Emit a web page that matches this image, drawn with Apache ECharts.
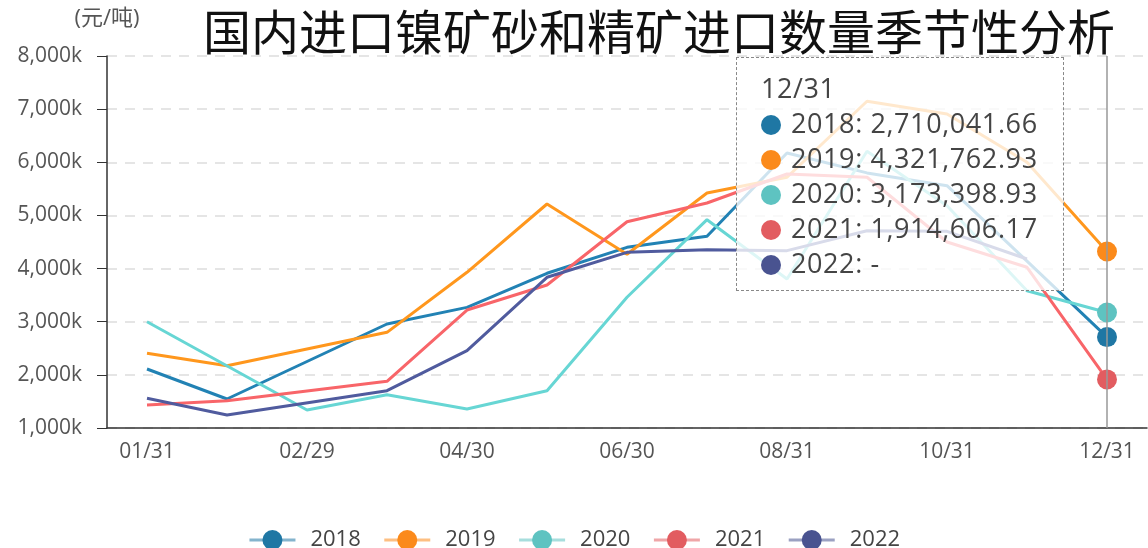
<!DOCTYPE html>
<html>
<head>
<meta charset="utf-8">
<script src="https://cdn.jsdelivr.net/npm/echarts@6/dist/echarts.min.js"></script>
<style>
  html, body { margin: 0; padding: 0; background: #fff; }
  #chart { width: 1148px; height: 548px; }
</style>
</head>
<body>
<div id="chart"></div>
<script>
const categories = ['01/31', '02/28', '02/29', '03/31', '04/30', '05/31', '06/30', '07/31', '08/31', '09/30', '10/31', '11/30', '12/31']
const years = ['2018', '2019', '2020', '2021', '2022']
const colors = ['#1f77a4', '#fb8a1b', '#5ec3c1', '#e25c60', '#495390']

const y2018 = [2110000, 1546000, null, 2957000, 3270000, 3911000, 4400000, 4607000, 6175000, 5800000, 5560000, 4140000, 2710041.66]
const y2019 = [2406000, 2172000, null, 2800000, 3930000, 5215000, 4270000, 5422000, 5718000, 7148000, 6910000, 6000000, 4321762.93]
const y2020 = [3000000, null, 1339000, 1627000, 1357000, 1702000, 3460000, 4920000, 3804000, 6207000, 5183000, 3584000, 3173398.93]
const y2021 = [1433000, 1514000, null, 1879000, 3220000, 3691000, 4882000, 5234000, 5780000, 5718000, 4500000, 4024000, 1914606.17]
const y2022 = [1559000, 1245000, null, 1702000, 2455000, 3836000, 4306000, 4356000, 4337000, 4713000, 4700000, 4180000, null]
const seriesData = [y2018, y2019, y2020, y2021, y2022]

const font = '"Open Sans", "Noto Sans CJK SC", sans-serif'

function fmt(v) {
  if (v == null || v === '-' || isNaN(v)) return '-'
  return Number(v).toLocaleString('en-US', { minimumFractionDigits: 2, maximumFractionDigits: 2 })
}

const chart = echarts.init(document.getElementById('chart'))

chart.setOption({
  animation: false,
  color: colors,
  textStyle: { fontFamily: font },
  title: {
    text: '国内进口镍矿砂和精矿进口数量季节性分析',
    left: 198,
    top: 3,
    textStyle: { fontSize: 48, fontWeight: 'normal', color: '#111', fontFamily: '"Noto Sans CJK SC", sans-serif' }
  },
  grid: { left: 107, right: 1, top: 56, bottom: 120 },
  tooltip: {
    trigger: 'axis',
    alwaysShowContent: true,
    triggerOn: 'none',
    transitionDuration: 0,
    position: [736, 57],
    backgroundColor: 'rgba(255,255,255,0.78)',
    borderColor: '#888',
    borderWidth: 1,
    padding: [12, 24, 10, 24],
    extraCssText: 'width:278px;border-style:dashed;border-radius:0;box-shadow:none;',
    axisPointer: { type: 'line', lineStyle: { color: '#999', width: 1.5, type: 'solid' } },
    formatter: function (params) {
      const row = 'font-size:27px;line-height:35px;letter-spacing:0.6px;color:#444;white-space:nowrap;'
      let html = '<div style="' + row + '">' + params[0].axisValue + '</div>'
      params.forEach(function (p) {
        html += '<div style="' + row + '">' +
          '<span style="display:inline-block;width:20px;height:20px;border-radius:10px;margin-right:10px;vertical-align:-2px;background:' + p.color + '"></span>' +
          p.seriesName + ': ' + fmt(p.value) + '</div>'
      })
      return html
    }
  },
  legend: {
    top: 524,
    left: 'center',
    itemWidth: 46,
    itemHeight: 25,
    itemGap: 22,
    lineStyle: { width: 3, opacity: 0.55 },
    textStyle: { fontSize: 22, color: '#444', padding: [0, 0, 0, 10] },
    data: years
  },
  xAxis: {
    type: 'category',
    data: categories,
    axisLine: { lineStyle: { color: '#333', width: 1.5 } },
    axisTick: { length: 6, lineStyle: { color: '#333' } },
    axisLabel: { interval: 1, fontSize: 21, color: '#555', margin: 14 }
  },
  yAxis: {
    type: 'value',
    min: 1000000,
    max: 8000000,
    interval: 1000000,
    name: '(元/吨)',
    nameGap: 26,
    nameTextStyle: { fontSize: 22, color: '#555', align: 'center' },
    axisLine: { show: true, lineStyle: { color: '#333', width: 1.5 } },
    axisTick: { show: true, length: 10, lineStyle: { color: '#333' } },
    axisLabel: {
      fontSize: 21,
      color: '#555',
      margin: 25,
      formatter: function (v) { return (v / 1000).toLocaleString('en-US') + 'k' }
    },
    splitLine: { lineStyle: { color: '#ddd', type: [10, 8], width: 1.5 } }
  },
  series: seriesData.map(function (d, i) {
    return {
      name: years[i],
      type: 'line',
      data: d,
      connectNulls: true,
      showSymbol: false,
      symbol: 'circle',
      symbolSize: 20,
      lineStyle: { width: 3 },
      emphasis: { scale: false, lineStyle: { width: 3 } }
    }
  })
})

chart.dispatchAction({ type: 'showTip', seriesIndex: 0, dataIndex: 12 })
</script>
</body>
</html>
